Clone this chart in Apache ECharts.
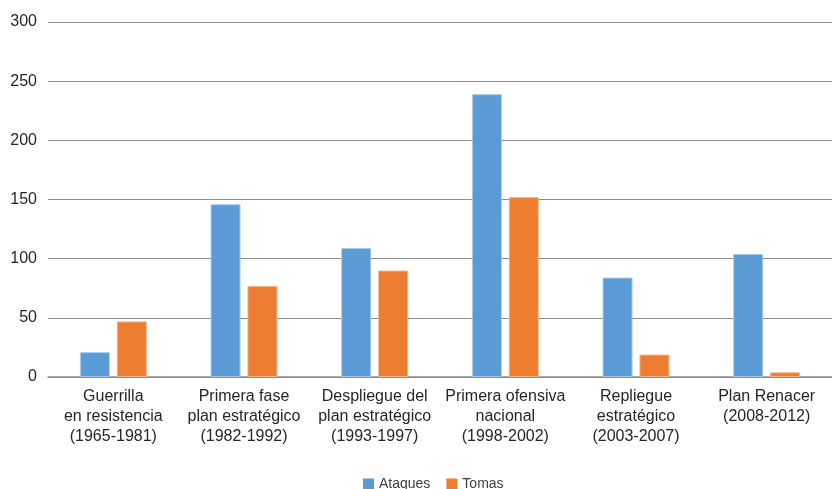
<!DOCTYPE html>
<html>
<head>
<meta charset="utf-8">
<script src="https://cdn.jsdelivr.net/npm/echarts@6/dist/echarts.min.js"></script>
<style>
  html, body { margin: 0; padding: 0; background: #fff; }
  #container { width: 832px; height: 489px; }
</style>
</head>
<body>
<div id="container"></div>
<script type="text/javascript">
  // categorías (periodos) y valores
  var periodos = [
    'Guerrilla\nen resistencia\n(1965-1981)',
    'Primera fase\nplan estratégico\n(1982-1992)',
    'Despliegue del\nplan estratégico\n(1993-1997)',
    'Primera ofensiva\nnacional\n(1998-2002)',
    'Repliegue\nestratégico\n(2003-2007)',
    'Plan Renacer\n(2008-2012)'
  ];
  var ataques = [21, 146, 109, 239, 84, 104];
  var tomas = [47, 77, 90, 152, 19, 4];

  var dom = document.getElementById("container");
  var myChart = echarts.init(dom);
  var fuente = 'Liberation Sans, Arial, sans-serif';

  myChart.setOption({
    animation: false,
    textStyle: { fontFamily: fuente },
    color: ['#5b9bd5', '#ed7d31'],
    legend: {
      bottom: -7,
      left: 358,
      itemWidth: 11,
      itemHeight: 11,
      itemGap: 16,
      icon: 'rect',
      itemStyle: { borderWidth: 0 },
      textStyle: { fontSize: 14, color: '#404040', fontFamily: fuente },
      data: ['Ataques', 'Tomas']
    },
    grid: {
      left: 48,
      right: 0,
      top: 22,
      bottom: 112
    },
    xAxis: {
      type: 'category',
      data: periodos,
      axisLine: { lineStyle: { color: '#8c8c8c', width: 1.5 } },
      axisTick: { show: false },
      axisLabel: {
        fontSize: 16,
        color: '#262626',
        lineHeight: 20,
        margin: 10,
        interval: 0,
        fontFamily: fuente
      }
    },
    yAxis: {
      type: 'value',
      min: 0,
      max: 300,
      interval: 50,
      axisLine: { show: false },
      axisTick: { show: false },
      splitLine: { lineStyle: { color: '#8c8c8c', width: 1.2 } },
      axisLabel: { fontSize: 16, color: '#262626', margin: 11, fontFamily: fuente }
    },
    series: [
      {
        name: 'Ataques',
        type: 'bar',
        data: ataques,
        barWidth: 30,
        barGap: '23%',
        itemStyle: { borderColor: '#a9c9ea', borderWidth: 1 }
      },
      {
        name: 'Tomas',
        type: 'bar',
        data: tomas,
        barWidth: 30,
        itemStyle: { borderColor: '#f4b58a', borderWidth: 1 }
      }
    ]
  });
</script>
</body>
</html>
